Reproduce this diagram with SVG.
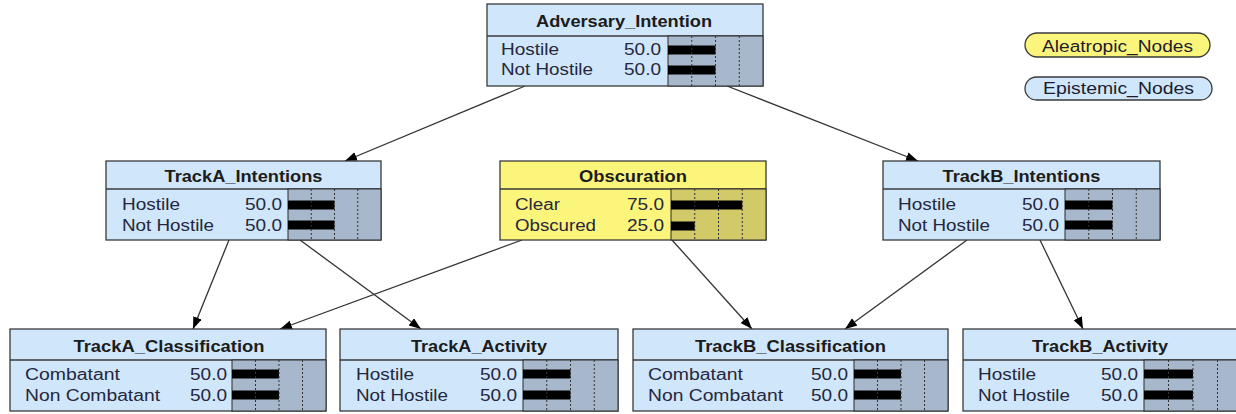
<svg xmlns="http://www.w3.org/2000/svg" width="1236" height="414" viewBox="0 0 1236 414">
  <style>
    .node { fill: #cfe6fb; stroke: #3a3a3a; stroke-width: 1.3; }
    .nodeY { fill: #fcf57c; stroke: #3a3a3a; stroke-width: 1.3; }
    .sep { stroke: #3a3a3a; stroke-width: 1.3; }
    .barbg { fill: #a8b8cc; stroke: #2a2a2a; stroke-width: 1; }
    .barbgY { fill: #d2ca68; stroke: #2a2a2a; stroke-width: 1; }
    .grid { stroke: #333; stroke-width: 1; stroke-dasharray: 2 2; }
    .bar { fill: #000; }
    .ttl { font-family: "Liberation Sans", Arial, sans-serif; font-size: 16.5px; font-weight: bold; fill: #1c1c1c; text-anchor: middle; }
    .lab { font-family: "Liberation Sans", Arial, sans-serif; font-size: 16px; fill: #26263c; }
    .val { font-family: "Liberation Sans", Arial, sans-serif; font-size: 16px; fill: #26263c; text-anchor: end; }
    .leg { font-family: "Liberation Sans", Arial, sans-serif; font-size: 16px; fill: #1c1c2c; text-anchor: middle; }
    .edge { stroke: #333; stroke-width: 1.3; fill: none; marker-end: url(#arrow); }
  </style>
  <defs>
    <marker id="arrow" markerUnits="userSpaceOnUse" markerWidth="13" markerHeight="10" refX="12" refY="4.5" orient="auto">
      <path d="M0,0 L12,4.5 L0,9 Z" fill="#000"/>
    </marker>
  </defs>

  <rect width="1236" height="414" fill="#fff"/>

  <!-- links between nodes -->
  <g id="connectors">
    <line class="edge" x1="525" y1="86" x2="345" y2="161"/>
    <line class="edge" x1="727" y1="86" x2="918" y2="161"/>
    <line class="edge" x1="229" y1="240" x2="193" y2="329"/>
    <line class="edge" x1="300" y1="240" x2="421" y2="329"/>
    <line class="edge" x1="522" y1="240" x2="280" y2="329"/>
    <line class="edge" x1="672" y1="240" x2="752" y2="329"/>
    <line class="edge" x1="967" y1="240" x2="845" y2="329"/>
    <line class="edge" x1="1040" y1="240" x2="1083" y2="329"/>
  </g>

  <!-- legend -->
  <g id="legend_aleatropic">
    <rect x="1025" y="33" width="185" height="24" rx="12" class="nodeY"/>
    <text class="leg" x="1117.5" y="51.5" textLength="151" lengthAdjust="spacingAndGlyphs">Aleatropic_Nodes</text>
  </g>
  <g id="legend_epistemic">
    <rect x="1025" y="77" width="187" height="23" rx="11.5" class="node"/>
    <text class="leg" x="1118.5" y="94" textLength="151" lengthAdjust="spacingAndGlyphs">Epistemic_Nodes</text>
  </g>

  <g id="Adversary_Intention">
    <rect x="487" y="4" width="276" height="82" class="node"/>
    <line x1="487" y1="36" x2="763" y2="36" class="sep"/>
    <rect x="668" y="36" width="95" height="50" class="barbg"/>
    <rect x="668" y="45.5" width="47.5" height="9" class="bar"/>
    <rect x="668" y="65.5" width="47.5" height="9" class="bar"/>
    <line x1="691.75" y1="36" x2="691.75" y2="86" class="grid"/>
    <line x1="715.5" y1="36" x2="715.5" y2="86" class="grid"/>
    <line x1="739.25" y1="36" x2="739.25" y2="86" class="grid"/>
    <text class="ttl" x="624" y="27" textLength="176" lengthAdjust="spacingAndGlyphs">Adversary_Intention</text>
    <text class="lab" x="501" y="55" textLength="58" lengthAdjust="spacingAndGlyphs">Hostile</text>
    <text class="lab" x="501" y="75" textLength="92" lengthAdjust="spacingAndGlyphs">Not Hostile</text>
    <text class="val" x="661" y="55" textLength="37" lengthAdjust="spacingAndGlyphs">50.0</text>
    <text class="val" x="661" y="75" textLength="37" lengthAdjust="spacingAndGlyphs">50.0</text>
  </g>

  <g id="TrackA_Intentions">
    <rect x="106" y="161" width="275" height="79" class="node"/>
    <line x1="106" y1="189" x2="381" y2="189" class="sep"/>
    <rect x="288" y="189" width="93" height="51" class="barbg"/>
    <rect x="288" y="200.5" width="46.5" height="9" class="bar"/>
    <rect x="288" y="220.5" width="46.5" height="9" class="bar"/>
    <line x1="311.25" y1="189" x2="311.25" y2="240" class="grid"/>
    <line x1="334.5" y1="189" x2="334.5" y2="240" class="grid"/>
    <line x1="357.75" y1="189" x2="357.75" y2="240" class="grid"/>
    <text class="ttl" x="243.5" y="182" textLength="158" lengthAdjust="spacingAndGlyphs">TrackA_Intentions</text>
    <text class="lab" x="122" y="210" textLength="58" lengthAdjust="spacingAndGlyphs">Hostile</text>
    <text class="lab" x="122" y="231" textLength="92" lengthAdjust="spacingAndGlyphs">Not Hostile</text>
    <text class="val" x="282" y="210" textLength="37" lengthAdjust="spacingAndGlyphs">50.0</text>
    <text class="val" x="282" y="231" textLength="37" lengthAdjust="spacingAndGlyphs">50.0</text>
  </g>

  <g id="Obscuration">
    <rect x="500" y="161" width="266" height="79" class="nodeY"/>
    <line x1="500" y1="189" x2="766" y2="189" class="sep"/>
    <rect x="671" y="189" width="95" height="51" class="barbgY"/>
    <rect x="671" y="200.5" width="71.25" height="9" class="bar"/>
    <rect x="671" y="221.5" width="23.75" height="9" class="bar"/>
    <line x1="694.75" y1="189" x2="694.75" y2="240" class="grid"/>
    <line x1="718.5" y1="189" x2="718.5" y2="240" class="grid"/>
    <line x1="742.25" y1="189" x2="742.25" y2="240" class="grid"/>
    <text class="ttl" x="633" y="182" textLength="108" lengthAdjust="spacingAndGlyphs">Obscuration</text>
    <text class="lab" x="515" y="210" textLength="45" lengthAdjust="spacingAndGlyphs">Clear</text>
    <text class="lab" x="515" y="231" textLength="81" lengthAdjust="spacingAndGlyphs">Obscured</text>
    <text class="val" x="664" y="210" textLength="37" lengthAdjust="spacingAndGlyphs">75.0</text>
    <text class="val" x="664" y="231" textLength="37" lengthAdjust="spacingAndGlyphs">25.0</text>
  </g>

  <g id="TrackB_Intentions">
    <rect x="883" y="161" width="277" height="79" class="node"/>
    <line x1="883" y1="189" x2="1160" y2="189" class="sep"/>
    <rect x="1065" y="189" width="95" height="51" class="barbg"/>
    <rect x="1065" y="200.5" width="47.5" height="9" class="bar"/>
    <rect x="1065" y="220.5" width="47.5" height="9" class="bar"/>
    <line x1="1088.75" y1="189" x2="1088.75" y2="240" class="grid"/>
    <line x1="1112.5" y1="189" x2="1112.5" y2="240" class="grid"/>
    <line x1="1136.25" y1="189" x2="1136.25" y2="240" class="grid"/>
    <text class="ttl" x="1021.5" y="182" textLength="158" lengthAdjust="spacingAndGlyphs">TrackB_Intentions</text>
    <text class="lab" x="898" y="210" textLength="58" lengthAdjust="spacingAndGlyphs">Hostile</text>
    <text class="lab" x="898" y="231" textLength="92" lengthAdjust="spacingAndGlyphs">Not Hostile</text>
    <text class="val" x="1059" y="210" textLength="37" lengthAdjust="spacingAndGlyphs">50.0</text>
    <text class="val" x="1059" y="231" textLength="37" lengthAdjust="spacingAndGlyphs">50.0</text>
  </g>

  <g id="TrackA_Classification">
    <rect x="10" y="329" width="316" height="82" class="node"/>
    <line x1="10" y1="360" x2="326" y2="360" class="sep"/>
    <rect x="232" y="360" width="94" height="51" class="barbg"/>
    <rect x="232" y="369.5" width="47" height="9" class="bar"/>
    <rect x="232" y="390.5" width="47" height="9" class="bar"/>
    <line x1="255.5" y1="360" x2="255.5" y2="411" class="grid"/>
    <line x1="279" y1="360" x2="279" y2="411" class="grid"/>
    <line x1="302.5" y1="360" x2="302.5" y2="411" class="grid"/>
    <text class="ttl" x="169" y="352" textLength="191" lengthAdjust="spacingAndGlyphs">TrackA_Classification</text>
    <text class="lab" x="25" y="380" textLength="95" lengthAdjust="spacingAndGlyphs">Combatant</text>
    <text class="lab" x="25" y="401" textLength="135" lengthAdjust="spacingAndGlyphs">Non Combatant</text>
    <text class="val" x="227" y="380" textLength="37" lengthAdjust="spacingAndGlyphs">50.0</text>
    <text class="val" x="227" y="401" textLength="37" lengthAdjust="spacingAndGlyphs">50.0</text>
  </g>

  <g id="TrackA_Activity">
    <rect x="340" y="329" width="278" height="82" class="node"/>
    <line x1="340" y1="360" x2="618" y2="360" class="sep"/>
    <rect x="523" y="360" width="95" height="51" class="barbg"/>
    <rect x="523" y="369.5" width="47.5" height="9" class="bar"/>
    <rect x="523" y="390.5" width="47.5" height="9" class="bar"/>
    <line x1="546.75" y1="360" x2="546.75" y2="411" class="grid"/>
    <line x1="570.5" y1="360" x2="570.5" y2="411" class="grid"/>
    <line x1="594.25" y1="360" x2="594.25" y2="411" class="grid"/>
    <text class="ttl" x="479" y="352" textLength="136" lengthAdjust="spacingAndGlyphs">TrackA_Activity</text>
    <text class="lab" x="356" y="380" textLength="58" lengthAdjust="spacingAndGlyphs">Hostile</text>
    <text class="lab" x="356" y="401" textLength="92" lengthAdjust="spacingAndGlyphs">Not Hostile</text>
    <text class="val" x="517" y="380" textLength="37" lengthAdjust="spacingAndGlyphs">50.0</text>
    <text class="val" x="517" y="401" textLength="37" lengthAdjust="spacingAndGlyphs">50.0</text>
  </g>

  <g id="TrackB_Classification">
    <rect x="633" y="329" width="315" height="82" class="node"/>
    <line x1="633" y1="360" x2="948" y2="360" class="sep"/>
    <rect x="854" y="360" width="94" height="51" class="barbg"/>
    <rect x="854" y="369.5" width="47" height="9" class="bar"/>
    <rect x="854" y="390.5" width="47" height="9" class="bar"/>
    <line x1="877.5" y1="360" x2="877.5" y2="411" class="grid"/>
    <line x1="901" y1="360" x2="901" y2="411" class="grid"/>
    <line x1="924.5" y1="360" x2="924.5" y2="411" class="grid"/>
    <text class="ttl" x="790.5" y="352" textLength="191" lengthAdjust="spacingAndGlyphs">TrackB_Classification</text>
    <text class="lab" x="648" y="380" textLength="95" lengthAdjust="spacingAndGlyphs">Combatant</text>
    <text class="lab" x="648" y="401" textLength="135" lengthAdjust="spacingAndGlyphs">Non Combatant</text>
    <text class="val" x="848" y="380" textLength="37" lengthAdjust="spacingAndGlyphs">50.0</text>
    <text class="val" x="848" y="401" textLength="37" lengthAdjust="spacingAndGlyphs">50.0</text>
  </g>

  <g id="TrackB_Activity">
    <rect x="963" y="329" width="279" height="82" class="node"/>
    <line x1="963" y1="360" x2="1242" y2="360" class="sep"/>
    <rect x="1144" y="360" width="98" height="51" class="barbg"/>
    <rect x="1144" y="369.5" width="49" height="9" class="bar"/>
    <rect x="1144" y="390.5" width="49" height="9" class="bar"/>
    <line x1="1168.5" y1="360" x2="1168.5" y2="411" class="grid"/>
    <line x1="1193" y1="360" x2="1193" y2="411" class="grid"/>
    <line x1="1217.5" y1="360" x2="1217.5" y2="411" class="grid"/>
    <text class="ttl" x="1100" y="352" textLength="136" lengthAdjust="spacingAndGlyphs">TrackB_Activity</text>
    <text class="lab" x="978" y="380" textLength="58" lengthAdjust="spacingAndGlyphs">Hostile</text>
    <text class="lab" x="978" y="401" textLength="92" lengthAdjust="spacingAndGlyphs">Not Hostile</text>
    <text class="val" x="1138" y="380" textLength="37" lengthAdjust="spacingAndGlyphs">50.0</text>
    <text class="val" x="1138" y="401" textLength="37" lengthAdjust="spacingAndGlyphs">50.0</text>
  </g>
</svg>
